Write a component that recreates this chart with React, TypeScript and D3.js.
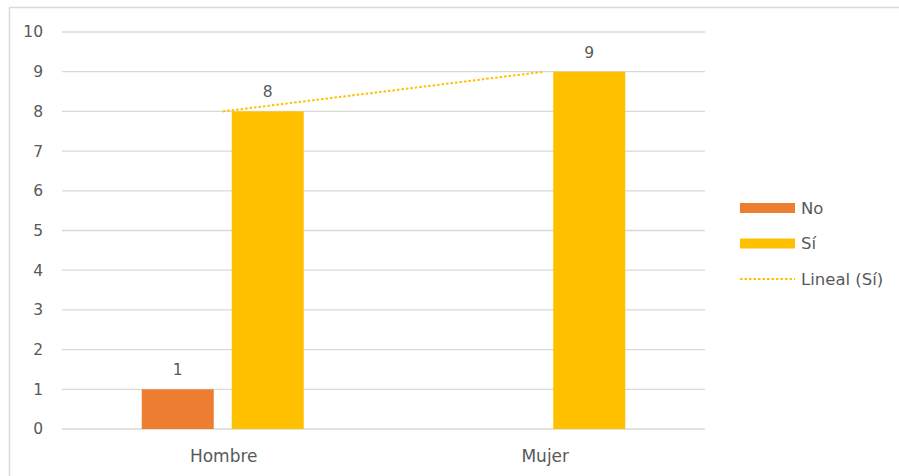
import React from "react";
import * as d3 from "d3";

const categories = ["Hombre", "Mujer"];
const seriesNames = ["No", "Sí"];
const noValues: (number | null)[] = [1, null];
const siValues: (number | null)[] = [8, 9];
const yTicks = [0, 1, 2, 3, 4, 5, 6, 7, 8, 9, 10];
const trendLabel = "Lineal (Sí)";

const colors: Record<string, string> = { No: "#ED7D31", "Sí": "#FFC000" };
const textColor = "#595959";
const font = "'DejaVu Sans', Verdana, sans-serif";

export default function App() {
  const W = 899, H = 476;
  const x = d3.scaleBand<string>().domain(categories).range([62, 705]).padding(0);
  const y = d3.scaleLinear().domain([0, 10]).range([429, 32]);
  const inner = d3.scaleBand<string>().domain(seriesNames).paddingInner(0.2).paddingOuter(0);
  const groupW = 162;

  const data: Record<string, (number | null)[]> = { No: noValues, "Sí": siValues };

  // linear trend for Sí
  const pts = siValues.map((v, i) => [i + 1, v as number]);
  const mx = d3.mean(pts, (p) => p[0])!;
  const my = d3.mean(pts, (p) => p[1])!;
  const slope = d3.sum(pts, (p) => (p[0] - mx) * (p[1] - my)) / d3.sum(pts, (p) => (p[0] - mx) ** 2);
  const icpt = my - slope * mx;
  const trend = categories.map((c, i) => [x(c)! + x.bandwidth() / 2, y(icpt + slope * (i + 1))] as [number, number]);
  const line = d3.line();

  const legendItems = [
    { label: "No", type: "bar", color: colors.No },
    { label: "Sí", type: "bar", color: colors["Sí"] },
    { label: trendLabel, type: "dot", color: colors["Sí"] },
  ];
  const legendY = d3.scalePoint<string>().domain(legendItems.map((d) => d.label)).range([208, 279]);

  return (
    <svg width={W} height={H} style={{ position: "absolute", left: 0, top: 0, background: "#fff" }} fontFamily={font}>
      <rect x={9.5} y={7.5} width={W + 10} height={H + 10} fill="#fff" stroke="#D9D9D9" strokeWidth={1.5} />
      {yTicks.map((t) => (
        <g key={t}>
          <line x1={62} x2={705} y1={y(t)} y2={y(t)} stroke="#D9D9D9" strokeWidth={1.3} />
          <text x={43} y={y(t)} dy="0.35em" textAnchor="end" fontSize={15.5} fill={textColor}>{t}</text>
        </g>
      ))}
      {categories.map((c, ci) => {
        const cx = x(c)! + x.bandwidth() / 2;
        inner.range([cx - groupW / 2, cx + groupW / 2]);
        return (
          <g key={c}>
            {seriesNames.map((s) => {
              const v = data[s][ci];
              if (v == null) return null;
              const bx = inner(s)!;
              const bw = inner.bandwidth();
              return (
                <g key={s}>
                  <rect x={bx} y={y(v)} width={bw} height={y(0) - y(v)} fill={colors[s]} />
                  <text x={bx + bw / 2} y={y(v) - 14} textAnchor="middle" fontSize={15.5} fill={textColor}>{v}</text>
                </g>
              );
            })}
            <text x={cx + 1} y={462} textAnchor="middle" fontSize={17} fill={textColor}>{c}</text>
          </g>
        );
      })}
      <path d={line(trend)!} stroke={colors["Sí"]} strokeWidth={2} strokeDasharray="2.5 2" fill="none" />
      {legendItems.map((d) => {
        const ly = legendY(d.label)!;
        return (
          <g key={d.label}>
            {d.type === "bar" ? (
              <rect x={740} y={ly - 5} width={55} height={10} fill={d.color} />
            ) : (
              <line x1={740} x2={795} y1={ly} y2={ly} stroke={d.color} strokeWidth={2} strokeDasharray="2.5 2" />
            )}
            <text x={801} y={ly} dy="0.35em" fontSize={16.5} fill={textColor}>{d.label}</text>
          </g>
        );
      })}
    </svg>
  );
}
